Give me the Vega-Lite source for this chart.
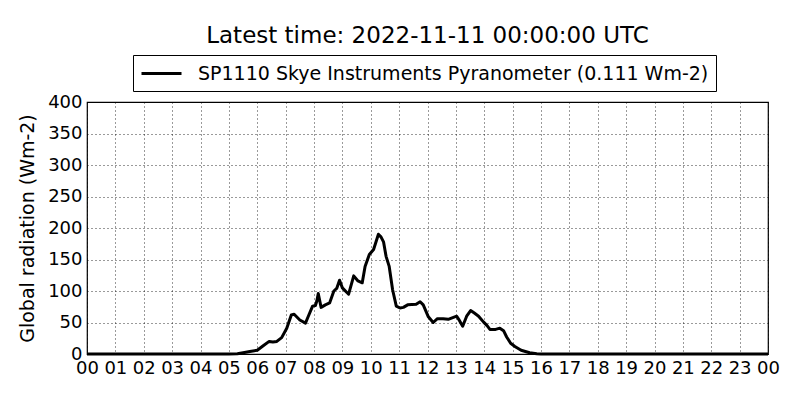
{
  "$schema": "https://vega.github.io/schema/vega-lite/v6.json",
  "width": 681,
  "height": 252,
  "autosize": "none",
  "padding": {"left": 87, "top": 102, "right": 32, "bottom": 46},
  "background": "white",
  "title": {
    "text": "Latest time: 2022-11-11 00:00:00 UTC",
    "font": "DejaVu Sans",
    "fontSize": 23,
    "fontWeight": "normal",
    "color": "black",
    "anchor": "middle",
    "offset": 7
  },
  "data": {
    "values": [
      {"hour": 0, "rad": 0},
      {"hour": 5.0, "rad": 0},
      {"hour": 5.3, "rad": 0.5},
      {"hour": 5.5, "rad": 2},
      {"hour": 5.74, "rad": 4},
      {"hour": 6.0, "rad": 6},
      {"hour": 6.21, "rad": 13},
      {"hour": 6.42, "rad": 20},
      {"hour": 6.55, "rad": 19},
      {"hour": 6.69, "rad": 20},
      {"hour": 6.86, "rad": 26},
      {"hour": 7.04, "rad": 41},
      {"hour": 7.2, "rad": 62},
      {"hour": 7.3, "rad": 63},
      {"hour": 7.5, "rad": 54},
      {"hour": 7.7, "rad": 49},
      {"hour": 7.8, "rad": 60},
      {"hour": 7.95, "rad": 76},
      {"hour": 8.05, "rad": 77},
      {"hour": 8.1, "rad": 84},
      {"hour": 8.15, "rad": 96},
      {"hour": 8.25, "rad": 74},
      {"hour": 8.4, "rad": 78},
      {"hour": 8.55, "rad": 81},
      {"hour": 8.7, "rad": 100},
      {"hour": 8.8, "rad": 104},
      {"hour": 8.9, "rad": 117},
      {"hour": 9.0, "rad": 105},
      {"hour": 9.15, "rad": 98},
      {"hour": 9.22, "rad": 95},
      {"hour": 9.4, "rad": 124},
      {"hour": 9.55, "rad": 116},
      {"hour": 9.7, "rad": 113},
      {"hour": 9.8, "rad": 139},
      {"hour": 9.95, "rad": 158},
      {"hour": 10.1, "rad": 166},
      {"hour": 10.27, "rad": 190},
      {"hour": 10.36, "rad": 186},
      {"hour": 10.45, "rad": 178},
      {"hour": 10.54, "rad": 155},
      {"hour": 10.65, "rad": 139},
      {"hour": 10.77, "rad": 102},
      {"hour": 10.9, "rad": 76},
      {"hour": 11.03, "rad": 73},
      {"hour": 11.15, "rad": 74},
      {"hour": 11.3, "rad": 78},
      {"hour": 11.6, "rad": 79},
      {"hour": 11.74, "rad": 83},
      {"hour": 11.85, "rad": 78},
      {"hour": 12.03, "rad": 59},
      {"hour": 12.2, "rad": 50},
      {"hour": 12.35, "rad": 56},
      {"hour": 12.55, "rad": 56},
      {"hour": 12.73, "rad": 55},
      {"hour": 13.03, "rad": 60},
      {"hour": 13.1, "rad": 55},
      {"hour": 13.24, "rad": 44},
      {"hour": 13.38, "rad": 60},
      {"hour": 13.52, "rad": 69},
      {"hour": 13.65, "rad": 65},
      {"hour": 13.8, "rad": 60},
      {"hour": 13.97, "rad": 51},
      {"hour": 14.1, "rad": 45},
      {"hour": 14.2, "rad": 39},
      {"hour": 14.4, "rad": 39},
      {"hour": 14.55, "rad": 41},
      {"hour": 14.68, "rad": 37},
      {"hour": 14.79, "rad": 27},
      {"hour": 14.93, "rad": 17},
      {"hour": 15.08, "rad": 12},
      {"hour": 15.3, "rad": 6},
      {"hour": 15.6, "rad": 2},
      {"hour": 15.85, "rad": 0.5},
      {"hour": 16.0, "rad": 0},
      {"hour": 24, "rad": 0}
    ]
  },
  "mark": {"type": "line", "strokeWidth": 3, "strokeJoin": "round"},
  "encoding": {
    "x": {
      "field": "hour",
      "type": "quantitative",
      "scale": {"domain": [0, 24], "nice": false, "zero": false},
      "axis": {
        "title": null,
        "values": [0,1,2,3,4,5,6,7,8,9,10,11,12,13,14,15,16,17,18,19,20,21,22,23,24],
        "labelExpr": "pad(toString(datum.value % 24), 2, '0', 'left')",
        "labelOverlap": false,
        "labelFlush": false,
        "labelPadding": 5
      }
    },
    "y": {
      "field": "rad",
      "type": "quantitative",
      "scale": {"domain": [0, 400], "nice": false},
      "axis": {
        "title": "Global radiation (Wm-2)",
        "values": [0, 50, 100, 150, 200, 250, 300, 350, 400],
        "labelOverlap": false,
        "labelFlush": false,
        "labelPadding": 5,
        "titlePadding": 10
      }
    },
    "color": {
      "datum": "SP1110 Skye Instruments Pyranometer (0.111 Wm-2)",
      "type": "nominal",
      "scale": {"range": ["black"]},
      "legend": {
        "title": null,
        "orient": "none",
        "legendX": 46,
        "legendY": -47,
        "symbolType": "M-1,0H3",
        "symbolSize": 400,
        "symbolStrokeWidth": 2.8,
        "symbolStrokeColor": "black",
        "symbolFillColor": "transparent",
        "labelOffset": 35,
        "labelFont": "DejaVu Sans",
        "labelFontSize": 19,
        "labelColor": "black",
        "labelLimit": 0,
        "padding": 7,
        "strokeColor": "black",
        "fillColor": "white"
      }
    }
  },
  "config": {
    "view": {"stroke": "black", "strokeWidth": 1.2},
    "axis": {
      "domain": false,
      "ticks": false,
      "grid": true,
      "gridColor": "black",
      "gridOpacity": 1,
      "gridDash": [1, 3],
      "gridWidth": 0.8,
      "labelFont": "DejaVu Sans",
      "labelFontSize": 18,
      "labelColor": "black",
      "titleFont": "DejaVu Sans",
      "titleFontSize": 19,
      "titleFontWeight": "normal",
      "titleColor": "black"
    }
  }
}
